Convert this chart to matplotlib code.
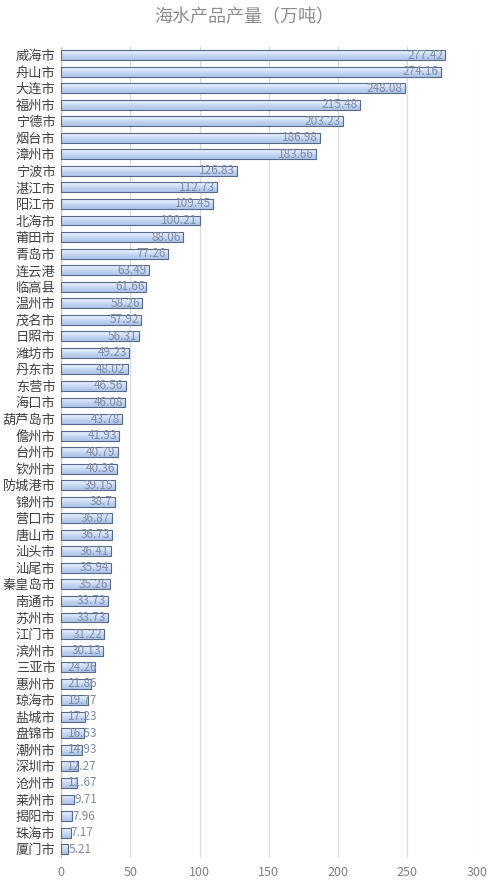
import numpy as np
import matplotlib.pyplot as plt

plt.rcParams['font.family'] = ['Noto Sans CJK SC', 'DejaVu Sans']

# cities and sea-product output (10k tonnes), top to bottom as drawn
cities = ["威海市", "舟山市", "大连市", "福州市", "宁德市", "烟台市", "漳州市",
          "宁波市", "湛江市", "阳江市", "北海市", "莆田市", "青岛市", "连云港",
          "临高县", "温州市", "茂名市", "日照市", "潍坊市", "丹东市", "东营市",
          "海口市", "葫芦岛市", "儋州市", "台州市", "钦州市", "防城港市", "锦州市",
          "营口市", "唐山市", "汕头市", "汕尾市", "秦皇岛市", "南通市", "苏州市",
          "江门市", "滨州市", "三亚市", "惠州市", "琼海市", "盐城市", "盘锦市",
          "潮州市", "深圳市", "沧州市", "莱州市", "揭阳市", "珠海市", "厦门市"]
values = [277.42, 274.16, 248.08, 215.48, 203.23, 186.98, 183.66,
          126.83, 112.73, 109.45, 100.21, 88.06, 77.26, 63.49,
          61.66, 58.26, 57.92, 56.31, 49.23, 48.02, 46.56,
          46.08, 43.78, 41.93, 40.79, 40.36, 39.15, 38.7,
          36.87, 36.73, 36.41, 35.94, 35.26, 33.73, 33.73,
          31.22, 30.13, 24.26, 21.86, 19.77, 17.23, 16.53,
          14.93, 12.27, 11.67, 9.71, 7.96, 7.17, 5.21]
value_labels = ["277.42", "274.16", "248.08", "215.48", "203.23", "186.98", "183.66",
                "126.83", "112.73", "109.45", "100.21", "88.06", "77.26", "63.49",
                "61.66", "58.26", "57.92", "56.31", "49.23", "48.02", "46.56",
                "46.08", "43.78", "41.93", "40.79", "40.36", "39.15", "38.7",
                "36.87", "36.73", "36.41", "35.94", "35.26", "33.73", "33.73",
                "31.22", "30.13", "24.26", "21.86", "19.77", "17.23", "16.53",
                "14.93", "12.27", "11.67", "9.71", "7.96", "7.17", "5.21"]
xticks = [0, 50, 100, 150, 200, 250, 300]

fig = plt.figure(figsize=(4.88, 8.83), dpi=100)
ax = fig.add_axes([0.125, 0.029, 0.852, 0.918])

n = len(cities)
y = np.arange(n)
bar_h = 0.6

bars = ax.barh(y, values, height=bar_h, color='none',
               edgecolor='#56698a', linewidth=0.8, zorder=3)

# vertical gradient fill for each bar, pale on top, soft blue lower down
grad = np.linspace(0, 1, 64).reshape(-1, 1)
cmap = plt.matplotlib.colors.LinearSegmentedColormap.from_list(
    'barfill', ['#eef4fd', '#d6e3f8', '#bcd0f0', '#aec5ec'])
for rect, v in zip(bars, values):
    yb = rect.get_y()
    im = ax.imshow(grad, cmap=cmap, aspect='auto', origin='upper',
                   extent=[0, v, yb + bar_h, yb], zorder=2)
    im.set_clip_path(rect)

for yi, v, lab in zip(y, values, value_labels):
    if v < 10:
        ax.text(v, yi, lab, ha='left', va='center', fontsize=8.5,
                color='#7f8aa0', zorder=4)
    else:
        ax.text(max(v - 1.5, 26), yi, lab, ha='right', va='center',
                fontsize=8.5, color='#7f8aa0', zorder=4)

ax.set_xlim(0, 300)
ax.set_ylim(n - 0.5, -0.5)
ax.set_xticks(xticks)
ax.set_xticklabels([str(t) for t in xticks], color='#808080', fontsize=9)
ax.set_yticks(y)
ax.set_yticklabels(cities, fontsize=9.5, color='#404040')
ax.tick_params(length=0, pad=4)
ax.tick_params(axis='x', pad=6)

ax.grid(axis='x', color='#d9d9d9', linewidth=0.8, zorder=0)
for s in ['top', 'right', 'bottom']:
    ax.spines[s].set_visible(False)
ax.spines['left'].set_color('#bfbfbf')
ax.spines['left'].set_linewidth(0.8)

fig.text(0.5, 0.981, "海水产品产量（万吨）", ha='center', va='center',
         fontsize=13, color='#8c8c8c')

fig.savefig('out.png', dpi=100)
